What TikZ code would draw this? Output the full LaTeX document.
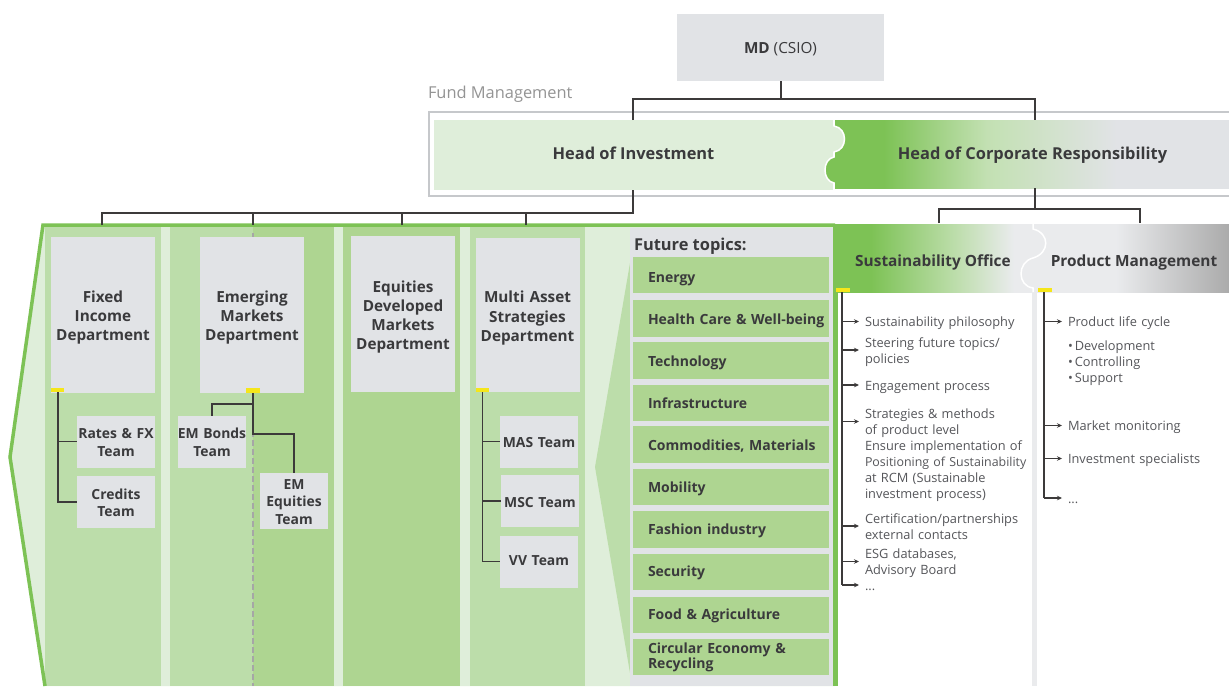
\documentclass[tikz,border=0pt]{standalone}
\usepackage{fontspec}
\setmainfont{Open Sans}
\usetikzlibrary{arrows.meta}
\definecolor{boxgray}{HTML}{E1E3E6}
\definecolor{palegreen}{HTML}{DFEEDA}
\definecolor{midgreen}{HTML}{BCDDAA}
\definecolor{deepgreen}{HTML}{AED591}
\definecolor{strong}{HTML}{7DC255}
\definecolor{frame}{HTML}{C6C8CB}
\definecolor{ink}{HTML}{3A3A3C}
\definecolor{lightink}{HTML}{55565A}
\definecolor{linecol}{HTML}{3C3A3A}
\definecolor{tick}{HTML}{F5E61A}
\pgfdeclarehorizontalshading{hocrshade}{100bp}{color(0bp)=(strong); color(31.2bp)=(strong); color(44.3bp)=(midgreen!90!white); color(60.7bp)=(boxgray); color(100bp)=(boxgray)}
\pgfdeclarehorizontalshading{soshade}{100bp}{color(0bp)=(strong); color(34bp)=(strong); color(55bp)=(midgreen); color(70bp)=(boxgray!70!white); color(100bp)=(boxgray!70!white)}
\pgfdeclarehorizontalshading{pmshade}{100bp}{color(0bp)=(boxgray!70!white); color(46bp)=(boxgray!70!white); color(75bp)=(black!33); color(100bp)=(black!33)}
\tikzset{
  x=1pt,y=-1pt,
  plain/.style={inner sep=0pt,outer sep=0pt,text=ink},
  balanced/.style={execute at begin node={\rule{0pt}{#1}},execute at end node={\rule[-4.5pt]{0pt}{0pt}}},
  balanced/.default=16.5pt,
  grayfill/.style={plain,balanced,fill=boxgray,align=center,font=\fontsize{15.3}{19.3}\selectfont\bfseries},
  dept/.style={grayfill,balanced=18.5pt,minimum width=104pt,minimum height=156pt,text width=104pt},
  teambox/.style={grayfill,balanced=15pt,font=\fontsize{13.9}{17.5}\selectfont\bfseries,minimum height=52pt,minimum width=#1,text width=#1},
  topic/.style={plain,fill=deepgreen,minimum width=196pt,minimum height=36.5pt,anchor=west},
  topiclabel/.style={plain,balanced=15.5pt,anchor=west,align=left,text width=180pt,font=\fontsize{14}{15}\selectfont\bfseries},
  conn/.style={draw=linecol,line width=1.7pt},
  thinconn/.style={draw=linecol,line width=1.5pt},
  arr/.style={thinconn,-{Stealth[length=5pt,width=4.5pt]},shorten >=6pt},
  note/.style={plain,anchor=west,text=lightink,align=left,text width=200pt,font=\fontsize{12.8}{16}\selectfont,execute at begin node={\rule{0pt}{14pt}},execute at end node={\rule[-3.5pt]{0pt}{0pt}}},
  head/.style={plain,font=\fontsize{16.4}{20}\selectfont\bfseries},
}
\begin{document}
\begin{tikzpicture}
\useasboundingbox (0,0) rectangle (1229,686);
\fill[white] (0,0) rectangle (1229,686);
% bands
\fill[palegreen] (43,225) -- (835,225) -- (835,686) -- (45,686) -- (10,457) -- cycle;
\fill[midgreen] (45,227) rectangle (161,686);
\fill[midgreen] (170,227) rectangle (253,686);
\fill[deepgreen] (253,227) rectangle (334,686);
\fill[deepgreen] (343,227) rectangle (460,686);
\fill[midgreen] (470,227) rectangle (585,686);
\fill[midgreen] (630,263) -- (595,467) -- (630,673) -- cycle;
\fill[boxgray] (630,228) rectangle (833,686);
% green outline
\draw[strong,line width=3.5pt] (45,686) -- (10,457) -- (43,225) -- (835,225);
\fill[strong] (833,225) rectangle (838,686);
% white panels
\fill[white] (838,292) rectangle (1229,686);
\fill[boxgray!70!white] (1032,292) rectangle (1037,686);
% frame
\draw[frame,line width=2pt] (1229,112) -- (429,112) -- (429,196) -- (1229,196);
% dashed divider
\draw[black!35,line width=1.2pt,dash pattern=on 6pt off 3pt] (253,233) -- (253,686);
% top nodes
\node[plain,balanced,fill=boxgray,minimum width=207pt,minimum height=67pt,font=\fontsize{15.3}{19}\selectfont] (md) at (780.5,47.5) {\textbf{MD} (CSIO)};
\node[plain,balanced,anchor=west,text=black!42,font=\fontsize{16.4}{19}\selectfont] (fm) at (428,92) {Fund Management};
\node[plain,fill=palegreen,minimum width=399pt,minimum height=70pt,head] (hoi) at (633.5,155) {\rule[-4.5pt]{0pt}{0pt}Head of Investment};
\shade[shading=hocrshade] (835,120) rectangle (1229,188);
\node[head,balanced] (hocr) at (1032.5,153) {Head of Corporate Responsibility};
% puzzle joint, first row
\fill[palegreen] (833,126) -- (834,126) .. controls (848,128) and (848,150) .. (834,152) -- (833,152) -- cycle;
\fill[strong] (836,157) -- (834,157) .. controls (822,159) and (822,181) .. (834,183) -- (836,183) -- cycle;
\draw[white,line width=1.5pt] (834,120) -- (834,126) .. controls (848,128) and (848,150) .. (834,152) -- (834,157) .. controls (822,159) and (822,181) .. (834,183) -- (834,190);
% second row
\shade[shading=soshade] (835,224) rectangle (1034,292);
\shade[shading=pmshade] (1033,224) rectangle (1229,292);
\draw[white,line width=1.5pt] (1033,224) -- (1033,229) .. controls (1050,233) and (1050,253) .. (1033,258) .. controls (1017,262) and (1017,286) .. (1033,288) -- (1033,292);
\node[plain,balanced,font=\fontsize{15.4}{19}\selectfont\bfseries] (so) at (933,260) {Sustainability Office};
\node[plain,balanced,font=\fontsize{15.4}{19}\selectfont\bfseries] (pm) at (1134,260) {Product Management};
% departments
\node[dept] (fi) at (103,314.5) {Fixed\\Income\\Department};
\node[dept] (em) at (252,314.5) {Emerging\\Markets\\Department};
\node[dept] (eq) at (403,314) {Equities\\Developed\\Markets\\Department};
\node[dept,minimum height=154pt,balanced=16.5pt] (ma) at (527.5,315) {Multi Asset\\Strategies\\Department};
% teams
\node[teambox=78pt] (rates) at (116,441.5) {Rates \& FX\\Team};
\node[teambox=78pt] (credits) at (116,502) {Credits\\Team};
\node[teambox=68pt] (bonds) at (212,441.5) {\makebox[68pt][c]{EM Bonds}\\Team};
\node[teambox=68pt,balanced=12pt] (eqt) at (294,500.5) {EM\\Equities\\Team};
\node[teambox=78pt,balanced=14pt] (mas) at (539,441.5) {MAS Team};
\node[teambox=78pt,balanced=14pt] (msc) at (540,501) {MSC Team};
\node[teambox=78pt,balanced=12.5pt] (vv) at (539,561.5) {VV Team\rule[-8pt]{0pt}{0pt}};
% yellow ticks
\fill[tick] (51,388) rectangle (64,392);
\fill[tick] (246,388) rectangle (260,393);
\fill[tick] (476,388) rectangle (489,392);
\fill[tick] (836,288) rectangle (850,292);
\fill[tick] (1038,288) rectangle (1052,292);
% future topics
\node[plain,balanced,anchor=west,font=\fontsize{16.4}{19}\selectfont\bfseries] (ft) at (634,244) {Future topics:};
\node[topic] (t1) at (633,275) {};
\node[topic] (t2) at (633,318.5) {};
\node[topic] (t3) at (633,360.5) {};
\node[topic] (t4) at (633,403) {};
\node[topic] (t5) at (633,444.5) {};
\node[topic] (t6) at (633,487) {};
\node[topic] (t7) at (633,529.5) {};
\node[topic] (t8) at (633,572) {};
\node[topic] (t9) at (633,615) {};
\node[topic] (t10) at (633,657) {};
\node[topiclabel] (l1) at (648,277) {Energy};
\node[topiclabel] (l2) at (648,319) {Health Care \& Well-being};
\node[topiclabel] (l3) at (648,361) {Technology};
\node[topiclabel] (l4) at (648,403) {Infrastructure};
\node[topiclabel] (l5) at (648,445) {Commodities, Materials};
\node[topiclabel] (l6) at (648,487) {Mobility};
\node[topiclabel] (l7) at (648,529) {Fashion industry};
\node[topiclabel] (l8) at (648,571) {Security};
\node[topiclabel] (l9) at (648,614) {Food \& Agriculture};
\node[topiclabel] (l10) at (648,655.5) {Circular Economy \&\\Recycling};
% top connectors
\coordinate (bar1) at (781,99);
\coordinate (hoiT) at (633,120);
\coordinate (hocrT) at (1035,120);
\draw[conn] (md.south -| bar1) -- (bar1);
\draw[conn] (hoiT) |- (bar1) -| (hocrT);
\coordinate (hoiB) at (633,190);
\coordinate (bar2) at (633,213);
\coordinate (d1) at (102,225);\coordinate (d2) at (253,225);\coordinate (d3) at (402,225);\coordinate (d4) at (526,225);
\draw[conn] (hoiB) -- (bar2) -- (bar2 -| d1) -- (d1);
\draw[conn] (d2 |- bar2) -- (d2);
\draw[conn] (d3 |- bar2) -- (d3);
\draw[conn] (d4 |- bar2) -- (d4);
\coordinate (crB) at (1035,188);
\coordinate (bar3) at (1035,209);
\coordinate (s1) at (939,223);\coordinate (s2) at (1140,223);
\draw[conn] (crB) -- (bar3);
\draw[conn] (s1) |- (bar3) -| (s2);
% department connectors
\coordinate (fiT) at (58,392);
\draw[conn] (fiT) |- (credits.west);
\draw[conn] (fiT |- rates.west) -- (rates.west);
\coordinate (emT) at (253,393);
\draw[conn] (emT) -- (253,434) -| (eqt.north);
\draw[conn] (253,404) -| (bonds.north);
\coordinate (maT) at (482.5,392);
\draw[conn] (maT) |- (vv.west);
\draw[conn] (maT |- mas.west) -- (mas.west);
\draw[conn] (maT |- msc.west) -- (msc.west);
% sustainability office list
\node[note] (a1) at (865,321.5) {Sustainability philosophy};
\node[note] (a2) at (865,350) {Steering future topics/\\policies};
\node[note] (a3) at (865,385) {Engagement process};
\node[note] (a4) at (865,421.5) {Strategies \& methods\\of product level};
\node[note] (a4b) at (865,469.5) {Ensure implementation of\\{\fontsize{12.4}{16}\selectfont Positioning of Sustainability}\\at RCM (Sustainable\\investment process)};
\node[note] (a5) at (865,526) {Certification/partnerships\\external contacts};
\node[note] (a6) at (865,561.5) {ESG databases,\\Advisory Board};
\node[note] (a7) at (865,585) {...};
\coordinate (soT) at (842,292);
\draw[thinconn] (soT) -- (soT |- a7.west);
\foreach \t in {a1,a2,a3,a4,a5,a6,a7}{\draw[arr] (soT |- \t.west) -- (\t.west);}
% product management list
\node[note] (b1) at (1068,321.5) {Product life cycle};
\node[note] (b1x) at (1068,361) {\textbullet\hspace{2pt}Development\\\textbullet\hspace{2pt}Controlling\\\textbullet\hspace{2pt}Support};
\node[note] (b2) at (1068,425.5) {Market monitoring};
\node[note] (b3) at (1068,458.5) {Investment specialists};
\node[note] (b4) at (1068,498) {...};
\coordinate (pmT) at (1044,292);
\draw[thinconn] (pmT) -- (pmT |- b4.west);
\foreach \t in {b1,b2,b3,b4}{\draw[arr] (pmT |- \t.west) -- (\t.west);}
\end{tikzpicture}
\end{document}
